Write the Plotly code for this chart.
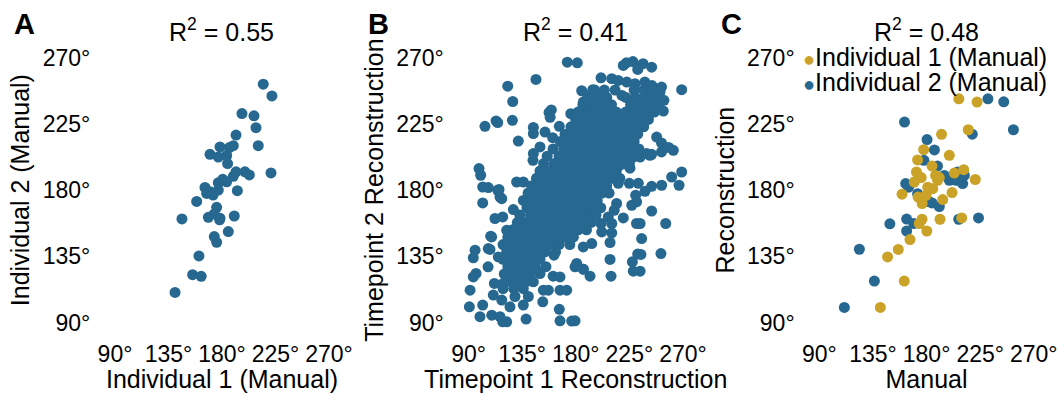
import plotly.graph_objects as go

FONT = "Liberation Sans, Arial, Helvetica, sans-serif"
BLUE = "#276891"
GOLD = "#C9A227"

# ---------------- data ----------------
tick_vals = [90, 135, 180, 225, 270]
tick_text = ["90°", "135°", "180°", "225°", "270°"]
panel_letters = ["A", "B", "C"]
r2_values = ["0.55", "0.41", "0.48"]
x_titles = ["Individual 1 (Manual)", "Timepoint 1 Reconstruction", "Manual"]
y_titles = ["Individual 2 (Manual)", "Timepoint 2 Reconstruction", "Reconstruction"]
legend_labels = ["Individual 1 (Manual)", "Individual 2 (Manual)"]

# Panel A: Individual 1 (Manual) vs Individual 2 (Manual)
a_ind1 = [214.7, 222, 196.8, 206.9, 208.6, 191.8, 210.5, 178.3, 189.5, 186.2,
          169.9, 176.9, 183.9, 184.7, 221.2, 191.8, 199.3, 203, 189.5, 183.9,
          176.9, 180.6, 165.7, 169.9, 172.5, 167.1, 176.9, 192.9, 158.7, 175.5,
          146.3, 168.5, 173.5, 178.3, 190.3, 185.3, 173.5, 175.5, 160.6, 155.3,
          162.5, 140.5, 178]
a_ind2 = [252, 244, 232, 230.5, 222.4, 217.4, 210.2, 209.3, 210.2, 208.9,
          204.3, 202.5, 203.5, 198, 191.7, 192.4, 192.4, 190.3, 189.4, 185.6,
          185, 187.3, 181.8, 178.9, 176.6, 177.7, 180, 179.6, 172.3, 168.3,
          160.4, 161.5, 163.8, 160.9, 162.4, 151.8, 148.4, 144.5, 135.3, 122.5,
          121.4, 110.5, 159.8]

# Panel B: (timepoint 1, timepoint 2) reconstructions, scattered points
b_outer = [
    (172.9, 266.9), (181.3, 266.5), (219.9, 264.7), (222.5, 266.5), (228, 267.3), (236.5, 265.9),
    (243.7, 263.5), (232, 262), (146.6, 255.2), (122.9, 250.6), (127.1, 240.2), (201.2, 256.3),
    (210.2, 255.7), (215.7, 254.5), (222.8, 253.4), (229.7, 252.3), (238, 253.4), (244, 251),
    (252, 250), (268.9, 248.2), (194.3, 248.2), (185, 247.5), (193.4, 245.5), (186.3, 239.8),
    (238, 247.7), (244, 247.2), (250.7, 246.6), (254, 241), (253.5, 233.7), (218.8, 244.3),
    (200.3, 237.6), (207.3, 234.2),
    (113.1, 227), (114.5, 225.9), (103.8, 223.3), (126.8, 227.4), (131.8, 213.3), (144.4, 222.6),
    (144.4, 218.4), (154.2, 219.4), (157.6, 232.8), (159.5, 234.5), (158.5, 229.5), (166.2, 223.3),
    (175.8, 231.9), (160.6, 215.6), (150, 209.3), (144.1, 200.2), (144.4, 204.8), (130.4, 185.5),
    (136, 185.5), (115.6, 180.4), (101.9, 182.1), (106.6, 181.7), (98.8, 194.6), (100.2, 190.1),
    (101.9, 171.3), (116.4, 175.3), (114.5, 179.9), (117.9, 174.2), (127.6, 166.8),
    (112.2, 160.7), (118.7, 161.8), (108.6, 148.7), (109.4, 148.2), (106.6, 140.3), (108, 139.7),
    (95.5, 139.2), (94, 134), (115, 134.6), (106.4, 127.9), (96.3, 123.4), (94, 121), (129, 150.5),
    (122, 152.7),
    (91.3, 112), (90.7, 100.7), (101.9, 101.9), (99.6, 94), (109.5, 95), (116.4, 94), (118.7, 90.5),
    (122, 90.5), (111.7, 116.6), (110.8, 108.7), (119.2, 116.6), (124.8, 100.7), (129, 107.7),
    (136, 101.9), (140.2, 107.7), (117.9, 105.3), (138.3, 92.4), (152.3, 104.1), (152.8, 112),
    (157, 112), (166.8, 112), (172.4, 112), (166.2, 99), (166.8, 91.2), (176.6, 91), (179.4, 91.2),
    (161, 121.5), (166.8, 121), (149.4, 124.5), (150, 123.3), (144.4, 117.7), (161.7, 135.8),
    (179.4, 127.9), (180.8, 130.2), (186.3, 126.3), (192, 121.5),
    (252, 205.9), (261.9, 207), (247.9, 216), (252, 212), (258, 209), (243.7, 204.3), (239.5, 204.8),
    (242.3, 203.6), (228.3, 202.5), (234, 202.5), (224.1, 196.9), (225.5, 194.9), (217.1, 196.9),
    (268.9, 192.3), (266.7, 183.3), (260.5, 188.9), (252.1, 183.3), (243.7, 182.6), (215.7, 184.6),
    (225, 184.6), (232.5, 184.6), (238.1, 179.2), (230.3, 176.5), (231.1, 172), (227, 169.7),
    (243.7, 165.8), (255.5, 157.3), (251.5, 136.9), (235.3, 147.1), (219.9, 161.1), (231, 157.3),
    (234, 157.3), (212.3, 166.3), (214.3, 170.9), (207.3, 161.8), (201.2, 157.3), (210.2, 157.3),
    (201.8, 151.6), (210.2, 150.9), (187.8, 157.3), (193.4, 143.7), (186.3, 141.4), (208.8, 144.4),
    (234.7, 136.3), (232, 136.5), (227.5, 131.3), (228.3, 124.9), (234, 124.9), (208.8, 132.9),
    (209.6, 121.5), (186.3, 126.3),
]

# Panel B: the dense central cloud (estimated, row by row)
b_core = [
    (196, 248), (204, 248), (213, 248), (229, 248), (237, 248),
    (190, 243), (198, 243), (206, 243), (222, 243), (230, 243), (238, 243), (246, 243),
    (186, 238), (194, 238), (202, 238), (210, 238), (226, 238), (234, 238), (242, 238), (249, 238),
    (182, 233), (190, 233), (198, 233), (206, 233), (214, 233), (222, 233), (230, 233), (238, 233), (246, 233),
    (180, 228), (188, 228), (194, 228), (202, 228), (210, 228), (218, 228), (226, 228), (234, 228), (241, 228),
    (176, 223), (182, 223), (190, 223), (198, 223), (206, 223), (214, 223), (222, 223), (230, 223), (237, 223),
    (171, 218), (178, 218), (186, 218), (194, 218), (202, 218), (210, 218), (218, 218), (226, 218), (232, 218),
    (167, 213), (174, 213), (182, 213), (190, 213), (198, 213), (206, 213), (214, 213), (222, 213), (229, 213),
    (161, 208), (170, 208), (178, 208), (186, 208), (194, 208), (202, 208), (210, 208), (218, 208), (226, 208), (233, 208),
    (156, 203), (166, 203), (174, 203), (182, 203), (190, 203), (198, 203), (206, 203), (214, 203), (222, 203),
    (153, 198), (162, 198), (170, 198), (178, 198), (186, 198), (194, 198), (202, 198), (210, 198), (218, 198), (225, 198),
    (150, 193), (158, 193), (166, 193), (174, 193), (182, 193), (190, 193), (198, 193), (206, 193), (214, 193),
    (147, 188), (154, 188), (162, 188), (170, 188), (178, 188), (186, 188), (194, 188), (202, 188), (210, 188), (217, 188),
    (143, 183), (150, 183), (158, 183), (166, 183), (174, 183), (182, 183), (190, 183), (198, 183), (206, 183),
    (140, 178), (146, 178), (154, 178), (162, 178), (170, 178), (178, 178), (186, 178), (194, 178), (202, 178), (208, 178),
    (136, 173), (142, 173), (150, 173), (158, 173), (166, 173), (174, 173), (182, 173), (190, 173), (198, 173),
    (139, 168), (146, 168), (154, 168), (162, 168), (170, 168), (178, 168), (186, 168), (194, 168), (201, 168),
    (133, 163), (142, 163), (150, 163), (158, 163), (166, 163), (174, 163), (182, 163), (190, 163), (197, 163),
    (131, 158), (138, 158), (146, 158), (154, 158), (162, 158), (170, 158), (178, 158), (186, 158), (193, 158),
    (127, 153), (134, 153), (142, 153), (150, 153), (158, 153), (166, 153), (174, 153), (182, 153), (189, 153),
    (123, 148), (130, 148), (138, 148), (146, 148), (154, 148), (162, 148), (170, 148), (178, 148),
    (119, 143), (126, 143), (134, 143), (142, 143), (150, 143), (158, 143), (166, 143), (175, 143),
    (122, 138), (130, 138), (138, 138), (146, 138), (154, 138), (163, 138),
    (119, 133), (126, 133), (134, 133), (142, 133), (150, 133),
    (123, 128), (130, 128), (138, 128), (146, 128), (155, 128),
    (120, 123), (127, 123), (134, 123), (142, 123),
    (124, 118), (132, 118), (139, 118),
    (119, 113), (128, 113), (136, 113),
]
b_t1 = [p[0] for p in b_outer + b_core]
b_t2 = [p[1] for p in b_outer + b_core]

# Panel C: Manual vs Reconstruction
c_ind2_manual = [111, 123.6, 136.2, 149.2, 161.5, 163.3, 163.3, 169.2, 162.5, 165,
                 180.4, 186.6, 177.8, 189.2, 172.5, 182.3, 184.6, 190.7, 194.9, 199.1,
                 204.8, 210.3, 206.1, 211.7, 207, 223.6, 218.4, 231.5, 244.8, 252.9]
c_ind2_recon = [100.3, 139.8, 118.2, 157.1, 226.2, 160.3, 152.2, 157.3, 184.4, 182,
                214.3, 207.3, 200.2, 196.3, 177.6, 172, 171.3, 168.8, 190, 186.7,
                186.7, 184.4, 192.3, 190, 160.2, 161.1, 218, 242, 240, 221]
c_ind1_manual = [141.2, 161.3, 147.3, 156.3, 166.1, 180.2, 173.9, 176.2, 191.3, 209.5,
                 159.4, 172.9, 176.3, 179.6, 185.2, 193.6, 201.4, 169.7, 173.9, 171.5,
                 172.5, 177.6, 184.6, 187.6, 189.3, 190.7, 192.6, 199.1, 203.3, 211.2,
                 220.9, 215, 207.1, 222.4, 175.5, 181]
c_ind1_recon = [100.3, 118.2, 134.6, 139.7, 146.4, 152.2, 157.3, 160.2, 160.2, 161.1,
                177.2, 175.3, 170.9, 176.5, 181, 173.6, 178.3, 185.5, 189, 192.3,
                200.5, 207.5, 196.3, 190, 186.7, 188.5, 217.9, 203.6, 191.6, 193.9,
                187.2, 221, 242, 239.8, 188.5, 182]

# ---------------- layout geometry (pixels) ----------------
W, H = 1059, 393
x_dom_px = [(104.3, 339.7), (457.8, 693.7), (808.6, 1044.5)]
y_dom_px = (44.4, 335.8)
AX_RANGE = [81, 279]
MS = 11
FS = 25      # titles, legend
FS_TICK = 23 # tick labels

fig = go.Figure()

fig.add_trace(go.Scatter(x=a_ind1, y=a_ind2, mode="markers", xaxis="x", yaxis="y",
                         marker=dict(color=BLUE, size=MS), showlegend=False))
fig.add_trace(go.Scatter(x=b_t1, y=b_t2, mode="markers", xaxis="x2", yaxis="y2",
                         marker=dict(color=BLUE, size=MS), showlegend=False))
fig.add_trace(go.Scatter(x=c_ind2_manual, y=c_ind2_recon, mode="markers", xaxis="x3", yaxis="y3",
                         marker=dict(color=BLUE, size=MS), name=legend_labels[1], showlegend=False))
fig.add_trace(go.Scatter(x=c_ind1_manual, y=c_ind1_recon, mode="markers", xaxis="x3", yaxis="y3",
                         marker=dict(color=GOLD, size=MS), name=legend_labels[0], showlegend=False))

textfont = dict(family=FONT, size=FS, color="black")
tickfont = dict(family=FONT, size=FS_TICK, color="black")
ydom = [1 - y_dom_px[1] / H, 1 - y_dom_px[0] / H]

layout = dict(
    width=W, height=H,
    margin=dict(l=0, r=0, t=0, b=0, pad=0),
    paper_bgcolor="white", plot_bgcolor="white",
    font=dict(family=FONT, size=FS, color="black"),
    showlegend=False,
)

annotations = []
for i in range(3):
    sfx = "" if i == 0 else str(i + 1)
    xd = [x_dom_px[i][0] / W, x_dom_px[i][1] / W]
    common = dict(range=AX_RANGE, tickmode="array", tickvals=tick_vals, ticktext=tick_text,
                  showgrid=False, zeroline=False, showline=False, ticks="", tickangle=0,
                  tickfont=tickfont, automargin=False, fixedrange=True,
                  ticklabeloverflow="allow")
    layout["xaxis" + sfx] = dict(domain=xd, anchor="y" + sfx, ticklabelstandoff=2,
                                 title=dict(text=x_titles[i], font=textfont, standoff=2), **common)
    layout["yaxis" + sfx] = dict(domain=ydom, anchor="x" + sfx, ticklabelstandoff=13,
                                 title=dict(text=y_titles[i], font=textfont, standoff=5), **common)
    # panel letter
    letter_x = [12, 366, 719][i]
    annotations.append(dict(text="<b>" + panel_letters[i] + "</b>", x=letter_x / W, y=1 - 24 / H,
                            xref="paper", yref="paper", xanchor="left", yanchor="middle",
                            showarrow=False, font=dict(family=FONT, size=29, color="black")))
    # R^2 title
    annotations.append(dict(text="R<sup>2</sup> = " + r2_values[i], x=(xd[0] + xd[1]) / 2,
                            y=1 - 30 / H, xref="paper", yref="paper", xanchor="center",
                            yanchor="middle", showarrow=False, font=textfont))

# legend for panel C (dot + label, like a ggplot key inside the panel)
for j, (lab, col) in enumerate([(legend_labels[0], GOLD), (legend_labels[1], BLUE)]):
    annotations.append(dict(
        text='<span style="color:%s;font-size:20px">●</span>%s' % (col, lab),
        x=801 / W, y=1 - (57 + 25 * j) / H, xref="paper", yref="paper",
        xanchor="left", yanchor="middle", showarrow=False, font=textfont))

layout["annotations"] = annotations
fig.update_layout(**layout)
fig.write_html("out.html", config={"displayModeBar": False},
               post_script="document.body.style.margin='0';document.body.style.padding='0';")
